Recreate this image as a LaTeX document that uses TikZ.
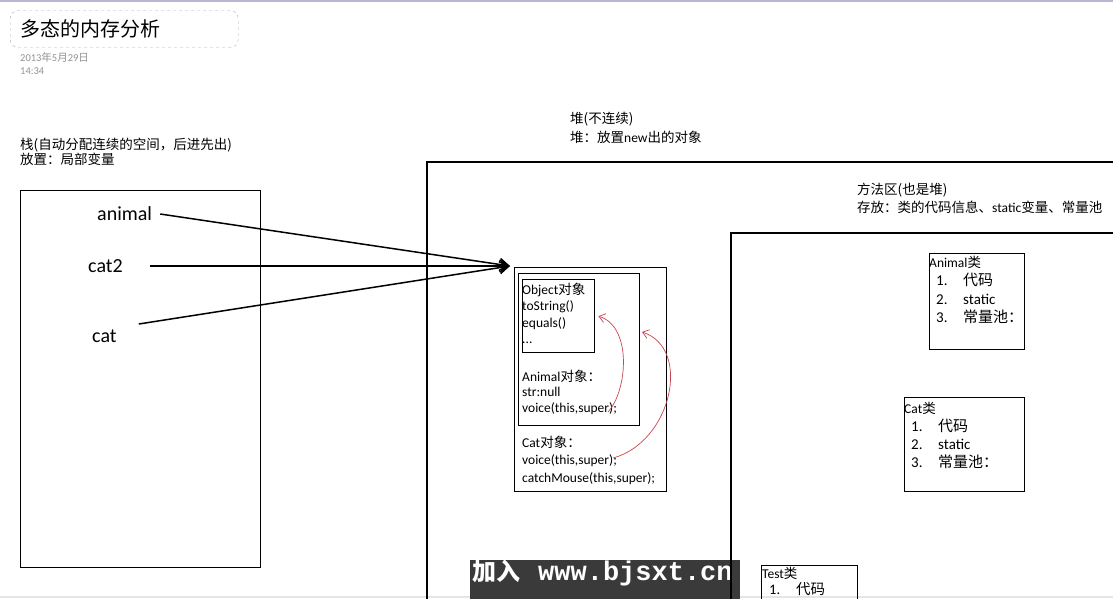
\documentclass[tikz,border=0pt]{standalone}
\usepackage{fontspec}
\setmainfont{Carlito}
\newfontfamily\cjk{Noto Sans CJK SC}
\newfontfamily\wmfont{Liberation Mono}
\usetikzlibrary{arrows.meta}
\definecolor{linkred}{RGB}{200,70,80}
\definecolor{markgray}{RGB}{58,58,58}
\newcommand{\zh}[1]{{\cjk #1}}
\newcommand{\fs}[2]{\fontsize{#1}{#2}\selectfont}
\newcommand{\clsline}[2]{\hspace*{7pt}\makebox[27pt][l]{#1}#2}

\begin{document}
\begin{tikzpicture}[x=1pt, y=-1pt,
      box/.style={draw, line width=1.4pt, anchor=north west, inner sep=0pt},
      txt/.style={anchor=base west, inner sep=0pt, align=left},
      var/.style={anchor=west, inner sep=0pt, font=\fs{20}{24}},
      ref/.style={-{Straight Barb[length=9pt,width=12pt]}, line width=1.5pt},
      back/.style={-{Straight Barb[length=6pt,width=9pt]}, linkred, line width=0.7pt},
    ]
    \clip (0,0) rectangle (1113,598);
    \fill[white] (0,0) rectangle (1113,598);
    \fill[blue!25!gray!45] (0,0) rectangle (1113,1.5);
    \fill[gray!20] (0,595.5) rectangle (1113,598);

    % title and date (text nodes sit on the baseline of their last line)
    \node[draw=gray!60, dashed, rounded corners=8pt, anchor=west, text width=208pt,
          inner xsep=10pt, minimum height=37pt, align=left, font=\fs{20}{24}]
      (title) at (10,29) {\zh{多态的内存分析}};
    \node[txt, text=gray!85, font=\fs{10.5}{13}] (date) at (20,74)
      {2013\zh{年}5\zh{月}29\zh{日}\\14:34};

    % stack
    \node[txt, font=\fs{13.5}{15}] (stacklbl) at (20,164)
      {\zh{栈(自动分配连续的空间，后进先出)}\\\zh{放置：局部变量}};
    \node[box, minimum width=240pt, minimum height=377pt] (stack) at (20,190) {};
    \node[var] (animal) at (97,214) {animal};
    \node[var] (cat2) at (88,266) {cat2};
    \node[var] (cat) at (92,336) {cat};

    % watermark
    \node[fill=markgray, anchor=north west, inner sep=0pt, minimum width=270pt,
          minimum height=40pt] (mark) at (470,560) {};
    \node[anchor=west, inner sep=0pt, text=white] (marktxt) at (472,573)
      {{\fs{24}{24}\cjk\bfseries 加入}\hspace{18pt}{\fs{27}{27}\wmfont\bfseries www.bjsxt.cn}};

    % heap
    \node[txt, font=\fs{13.5}{19}] (heaplbl) at (570,142)
      {\zh{堆(不连续)}\\\zh{堆：放置}new\zh{出的对象}};
    \draw[line width=1.2pt] (1120,162) -| (427,605);

    \node[box, minimum width=152pt, minimum height=224pt] (catobj) at (514,267) {};
    \node[box, minimum width=121pt, minimum height=152pt] (aniobj) at (518,273) {};
    \node[box, minimum width=72pt, minimum height=73pt] (objbox) at (522,279) {};
    \node[txt, font=\fs{13.5}{16.5}] (objtxt) at (522,343.5)
      {Object\zh{对象}\\toString()\\equals()\\...};
    \node[txt, font=\fs{13.5}{15.5}] (anitxt) at (522,412)
      {Animal\zh{对象：}\\str:null\\voice(this,super);};
    \node[txt, font=\fs{13.5}{17.5}] (cattxt) at (522,482)
      {Cat\zh{对象：}\\voice(this,super);\\catchMouse(this,super);};

    % method area
    \node[txt, font=\fs{13.5}{18}] (methlbl) at (857,212)
      {\zh{方法区(也是堆)}\\\zh{存放：类的代码信息、}static\zh{变量、常量池}};
    \draw[line width=1.2pt] (1120,233) -| (731,605);

    \node[box, minimum width=95pt, minimum height=96pt] (anicls) at (929,253) {};
    \node[txt, font=\fs{15}{18.5}] (aniclstxt) at (929,322.5)
      {{\fs{13.5}{16}Animal\zh{类}}\\\clsline{1.}{\zh{代码}}\\\clsline{2.}{static}\\\clsline{3.}{\zh{常量池：}}};
    \node[box, minimum width=120pt, minimum height=94pt] (catcls) at (904,397) {};
    \node[txt, font=\fs{15}{18.2}] (catclstxt) at (904,467.6)
      {{\fs{13.5}{16}Cat\zh{类}}\\\clsline{1.}{\zh{代码}}\\\clsline{2.}{static}\\\clsline{3.}{\zh{常量池：}}};
    \node[box, minimum width=96pt, minimum height=50pt] (testcls) at (761,565) {};
    \node[txt, font=\fs{14.5}{16}] (testclstxt) at (762,594)
      {{\fs{13.5}{16}Test\zh{类}}\\\clsline{1.}{\zh{代码}}};

    % references
    \coordinate (tip) at (510,266);
    \draw[ref] ([xshift=8pt]animal.east) -- (tip);
    \draw[ref] ([xshift=27pt]cat2.east) -- (tip);
    \draw[ref] ([xshift=22pt,yshift=12pt]cat.east) -- (tip);

    \coordinate (aniv) at (608,412);
    \coordinate (catv) at (613,458);
    \coordinate (anitop) at (642,332);
    \draw[back] (aniv) .. controls (628,390) and (632,326) .. ([xshift=3pt]objbox.east);
    \draw[back] (catv) .. controls (672,442) and (692,348) .. (anitop);
  \end{tikzpicture}
\end{document}
